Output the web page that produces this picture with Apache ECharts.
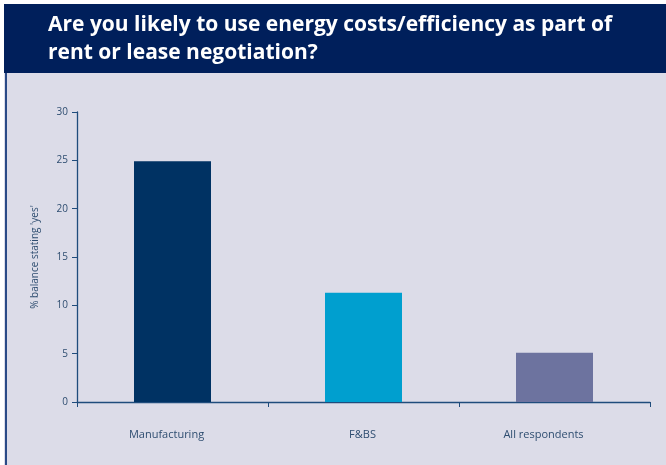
<!DOCTYPE html>
<html><head><meta charset="utf-8">
<script src="https://cdn.jsdelivr.net/npm/echarts@6/dist/echarts.min.js"></script>
<style>html,body{margin:0;padding:0;background:#fff}#c{width:666px;height:465px}</style>
</head><body><div id="c"></div>
<script>
const categories = ['Manufacturing', 'F&BS', 'All respondents'];
const values = [24.9, 11.3, 5.1];
const barColors = ['#003263', '#009fcf', '#6d739f'];
const yTicks = [0, 5, 10, 15, 20, 25, 30];
const titleLines = ['Are you likely to use energy costs/efficiency as part of', 'rent or lease negotiation?'];
const yName = "% balance stating 'yes'";
const labelShift = [12, 2, 22];

const chart = echarts.init(document.getElementById('c'), null, {renderer: 'canvas'});
const axisColor = '#1f4c7c';
const textColor = '#2e4d70';
chart.setOption({
  backgroundColor: '#ffffff',
  animation: false,
  graphic: [
    {type: 'rect', shape: {x: 4, y: 73, width: 662, height: 392}, style: {fill: '#dcdce8'}, z: -10},
    {type: 'rect', shape: {x: 4, y: 4, width: 662, height: 69}, style: {fill: '#001f5b'}, z: -5},
    {type: 'rect', shape: {x: 5, y: 73, width: 2, height: 392}, style: {fill: '#2a4a86'}, z: -4},
    {type: 'text', left: 48, top: 11, style: {text: titleLines.join('\n'), fill: '#ffffff', font: 'bold 21px "Open Sans"', lineHeight: 28}}
  ],
  grid: {left: 77, right: 16, top: 112, bottom: 63, containLabel: false},
  xAxis: {
    type: 'category',
    data: categories.map((c, i) => ({value: c, textStyle: {padding: [0, labelShift[i], 0, 0]}})),
    axisLine: {show: true, lineStyle: {color: axisColor, width: 1.3}},
    axisTick: {show: true, length: 5, lineStyle: {color: axisColor}},
    axisLabel: {color: textColor, fontFamily: 'Open Sans', fontSize: 11, margin: 27}
  },
  yAxis: {
    type: 'value', min: 0, max: 30, interval: 5,
    name: yName, nameLocation: 'middle', nameGap: 37, nameRotate: 90,
    nameTextStyle: {color: textColor, fontFamily: 'Open Sans', fontSize: 10},
    axisLine: {show: true, lineStyle: {color: axisColor, width: 1.3}},
    axisTick: {show: true, length: 5, lineStyle: {color: axisColor}},
    axisLabel: {color: textColor, fontFamily: 'Open Sans', fontSize: 10, margin: 9,
      formatter: v => yTicks.includes(v) ? String(v) : ''},
    splitLine: {show: false}
  },
  series: [{
    type: 'bar', barWidth: 77,
    data: values.map((v, i) => ({value: v, itemStyle: {color: barColors[i]}}))
  }]
});
</script></body></html>
